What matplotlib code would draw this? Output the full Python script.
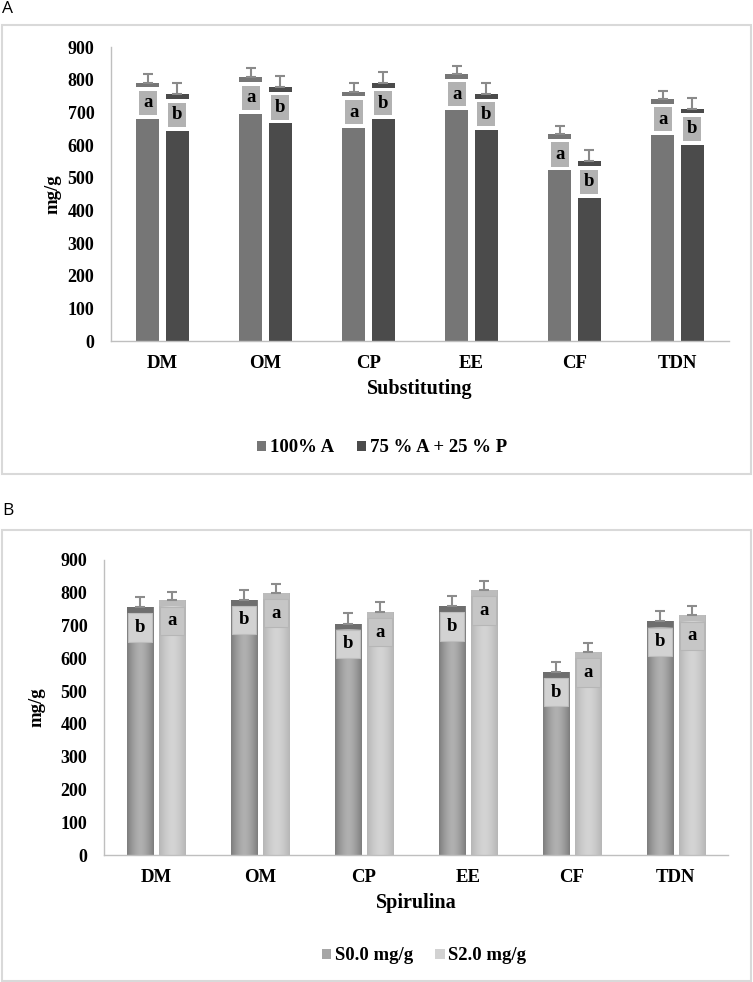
import numpy as np
import matplotlib
matplotlib.use("Agg")
import matplotlib.pyplot as plt
from matplotlib.patches import Rectangle, Patch
from matplotlib.font_manager import FontProperties

# ---------------- data ----------------
categories = ['DM', 'OM', 'CP', 'EE', 'CF', 'TDN']

# Panel A (Substituting)
a_series = ['100% A', '75 % A + 25 % P']
a_full = [791, 807, 763, 817, 633, 741]
a_mix = [755, 777, 790, 756, 550, 711]
a_full_err = [26, 28, 28, 26, 25, 25]
a_mix_err = [34, 34, 32, 35, 35, 34]
a_full_letters = ['a', 'a', 'a', 'a', 'a', 'a']
a_mix_letters = ['b', 'b', 'b', 'b', 'b', 'b']

# Panel B (Spirulina)
b_series = ['S0.0 mg/g', 'S2.0 mg/g']
b_s0 = [756, 779, 706, 759, 559, 713]
b_s2 = [777, 800, 742, 808, 619, 731]
b_s0_err = [31, 30, 31, 32, 30, 31]
b_s2_err = [26, 28, 29, 27, 27, 29]
b_s0_letters = ['b', 'b', 'b', 'b', 'b', 'b']
b_s2_letters = ['a', 'a', 'a', 'a', 'a', 'a']

yticks = [0, 100, 200, 300, 400, 500, 600, 700, 800, 900]

# ---------------- style ----------------
SERIF = 'Liberation Serif'
W, H = 753, 982
fig = plt.figure(figsize=(W / 100, H / 100), dpi=100)

def fx(px):
    return px / W

def fy(py):
    return 1 - py / H

AXIS_COL = '#bfbfbf'
FRAME_COL = '#d9d9d9'


def style_axes(ax, xlabel, xlabel_pad):
    ax.set_xlim(-0.5, len(categories) - 0.5)
    ax.set_ylim(0, 900)
    ax.set_yticks(yticks)
    ax.set_yticklabels([str(t) for t in yticks])
    ax.set_xticks(np.arange(len(categories)))
    ax.set_xticklabels(categories)
    for s in ['top', 'right']:
        ax.spines[s].set_visible(False)
    for s in ['left', 'bottom']:
        ax.spines[s].set_color(AXIS_COL)
        ax.spines[s].set_linewidth(1.0)
    ax.tick_params(axis='both', length=0)
    ax.tick_params(axis='y', pad=12)
    ax.tick_params(axis='x', pad=10)
    for lab in ax.get_yticklabels():
        lab.set_fontfamily(SERIF); lab.set_fontweight('bold'); lab.set_fontsize(13)
    for lab in ax.get_xticklabels():
        lab.set_fontfamily(SERIF); lab.set_fontweight('bold'); lab.set_fontsize(13.5)
    ax.set_xlabel(xlabel, fontfamily=SERIF, fontweight='bold', fontsize=14.5, labelpad=xlabel_pad)
    ax.set_ylabel('mg/g', fontfamily=SERIF, fontweight='bold', fontsize=13.5)


# ---------------- Panel A ----------------
axA = fig.add_axes([fx(111), fy(341), fx(729) - fx(111), fy(47) - fy(341)])
x = np.arange(len(categories))
bwA = 0.223
offA = 0.141
colA = ['#767676', '#4b4b4b']
for vals, errs, letters, off, col in [
        (a_full, a_full_err, a_full_letters, -offA, colA[0]),
        (a_mix, a_mix_err, a_mix_letters, offA, colA[1])]:
    xs = x + off
    axA.bar(xs, vals, width=bwA, color=col, zorder=2)
    vals_arr = np.array(vals)
    # white separator region under the cap
    axA.bar(xs, np.full(len(vals), 97), bottom=vals_arr - 111, width=bwA,
            color='white', zorder=2.1)
    # grey label box
    axA.bar(xs, np.full(len(vals), 74), bottom=vals_arr - 99, width=bwA * 0.78,
            color='#b2b2b2', zorder=2.2)
    for xi, v, l in zip(xs, vals, letters):
        axA.text(xi, v - 62, l, ha='center', va='center', fontfamily=SERIF,
                 fontweight='bold', fontsize=13.5, zorder=2.3)
    axA.errorbar(xs, vals, yerr=[np.zeros(len(errs)), errs], fmt='none',
                 ecolor='#8a8a8a', elinewidth=1.5, capsize=3.6, capthick=1.5, zorder=3)
style_axes(axA, 'Substituting', 5)
axA.yaxis.set_label_coords(-0.08, 0.5)

# ---------------- Panel B ----------------
axB = fig.add_axes([fx(104), fy(855), fx(728) - fx(104), fy(560) - fy(855)])
bwB = 0.255
offB = 0.156


def grad_colors(edge, mid, n=64):
    t = np.linspace(-1, 1, n)
    f = 1 - np.abs(t) ** 1.6
    edge = np.array(matplotlib.colors.to_rgb(edge))
    mid = np.array(matplotlib.colors.to_rgb(mid))
    return edge[None, :] + (mid - edge)[None, :] * f[:, None]


specB = [
    (b_s0, b_s0_err, b_s0_letters, -offB, ('#7d7d7d', '#b0b0b0'), '#6e6e6e', '#d2d2d2', '#bdbdbd'),
    (b_s2, b_s2_err, b_s2_letters, offB, ('#b6b6b6', '#d4d4d4'), '#bcbcbc', '#c6c6c6', '#b6b6b6'),
]
for vals, errs, letters, off, (ec, mc), band_col, box_col, box_edge in specB:
    xs = x + off
    bars = axB.bar(xs, vals, width=bwB, color=mc, zorder=2)
    img = grad_colors(ec, mc)[None, :, :]
    for p in bars:
        im = axB.imshow(img, extent=[p.get_x(), p.get_x() + p.get_width(), 0, p.get_height()],
                        aspect='auto', zorder=2.05, interpolation='bilinear')
        im.set_clip_path(p)
    vals_arr = np.array(vals)
    axB.bar(xs, np.full(len(vals), 18), bottom=vals_arr - 18, width=bwB,
            color=band_col, zorder=2.1)
    axB.bar(xs, np.full(len(vals), 86), bottom=vals_arr - 105, width=bwB * 0.9,
            color=box_col, edgecolor=box_edge, linewidth=0.8, zorder=2.2)
    for xi, v, l in zip(xs, vals, letters):
        axB.text(xi, v - 62, l, ha='center', va='center', fontfamily=SERIF,
                 fontweight='bold', fontsize=13.5, zorder=2.3)
    axB.errorbar(xs, vals, yerr=[np.zeros(len(errs)), errs], fmt='none',
                 ecolor='#8c8c8c', elinewidth=1.5, capsize=3.6, capthick=1.5, zorder=3)
style_axes(axB, 'Spirulina', 5)
axB.yaxis.set_label_coords(-0.094, 0.5)

# ---------------- legends ----------------
legprop = FontProperties(family=SERIF, weight='bold', size=13.5)
fig.legend([Patch(facecolor=colA[0]), Patch(facecolor=colA[1])], a_series,
           loc='center', bbox_to_anchor=(fx(382), fy(448)), ncol=2, frameon=False,
           handlelength=0.5, handleheight=0.5, handletextpad=0.2, columnspacing=1.2,
           prop=legprop, borderaxespad=0, borderpad=0)
fig.legend([Patch(facecolor='#a6a6a6'), Patch(facecolor='#d2d2d2')], b_series,
           loc='center', bbox_to_anchor=(fx(424), fy(956)), ncol=2, frameon=False,
           handlelength=0.5, handleheight=0.5, handletextpad=0.2, columnspacing=1.2,
           prop=legprop, borderaxespad=0, borderpad=0)

# ---------------- frames & panel letters ----------------
fig.patches.append(Rectangle((fx(2), fy(474)), fx(751) - fx(2), fy(25) - fy(474),
                             transform=fig.transFigure, fill=False,
                             edgecolor=FRAME_COL, linewidth=1.5))
fig.patches.append(Rectangle((fx(2), fy(981)), fx(751) - fx(2), fy(530) - fy(981),
                             transform=fig.transFigure, fill=False,
                             edgecolor=FRAME_COL, linewidth=1.5))
fig.text(fx(2), fy(9), 'A', ha='left', va='center', fontfamily='Open Sans', fontsize=12.5)
fig.text(fx(2), fy(511), 'B', ha='left', va='center', fontfamily='Open Sans', fontsize=12.5)

fig.savefig('out.png', dpi=100)
